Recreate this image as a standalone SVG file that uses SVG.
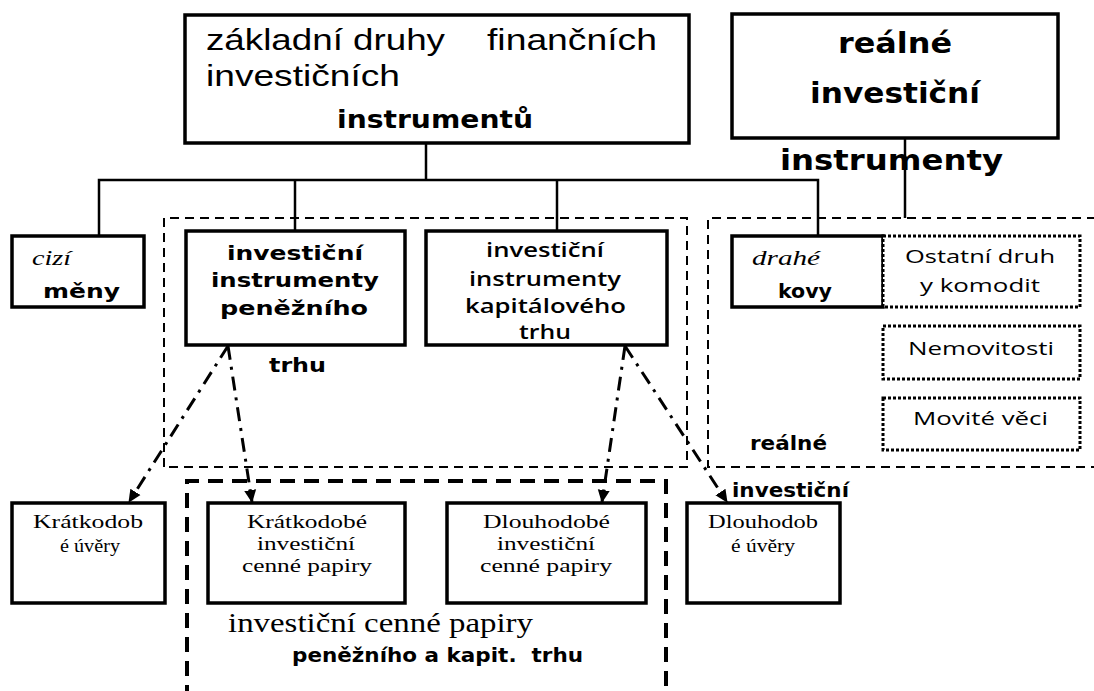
<svg xmlns="http://www.w3.org/2000/svg" width="1094" height="691" viewBox="0 0 1094 691">
<defs>
<style>
.box{fill:#fff;stroke:#000;stroke-width:3.5}
.dot{fill:#fff;stroke:#000;stroke-width:3;stroke-dasharray:3 2}
.dash{fill:none;stroke:#000;stroke-width:2;stroke-dasharray:9 6}
.tdash{fill:none;stroke:#000;stroke-width:4;stroke-dasharray:15 9}
.ln{fill:none;stroke:#000;stroke-width:2.5}
.dd{fill:none;stroke:#000;stroke-width:3;stroke-dasharray:14 7 3 7}
text{fill:#000}
.sa{font-family:"Liberation Sans",Arial,sans-serif}
.vb{font-family:"DejaVu Sans",Verdana,sans-serif;font-weight:bold}
.cb{font-family:"Open Sans","Liberation Sans",sans-serif;font-weight:600}
.cr{font-family:"Open Sans","Liberation Sans",sans-serif}
.se{font-family:"Liberation Serif","Times New Roman",serif}
.it{font-family:"Liberation Serif","Times New Roman",serif;font-style:italic}
</style>
<marker id="ah" markerUnits="userSpaceOnUse" markerWidth="14" markerHeight="14" viewBox="0 0 14 14" refX="12" refY="7" orient="auto">
<path d="M0,1 L13,7 L0,13 z" fill="#000"/>
</marker>
</defs>
<rect width="1094" height="691" fill="#fff"/>

<g id="regions">
<path class="dash" d="M164,467 V218 H687 V467 H164"/>
<path class="dash" d="M1100,467 H708 V218 H1100"/>
<path class="tdash" d="M187,700 V481 H666 V700"/>
</g>

<g id="connectors">
<path class="ln" d="M426,143 V180"/>
<path class="ln" d="M99,236 V180 H818 V236"/>
<path class="ln" d="M295,180 V231"/>
<path class="ln" d="M557,180 V231"/>
<path class="ln" d="M905,138 V218"/>
<path class="dd" d="M228,346 L129,502" marker-end="url(#ah)"/>
<path class="dd" d="M228,346 L252,502" marker-end="url(#ah)"/>
<path class="dd" d="M625,346 L602,502" marker-end="url(#ah)"/>
<path class="dd" d="M625,346 L727,502" marker-end="url(#ah)"/>
</g>

<g id="n-zakladni">
<rect class="box" x="185" y="15" width="504" height="128"/>
<text class="sa" x="206" y="50" font-size="30" textLength="239" lengthAdjust="spacingAndGlyphs">základní druhy</text>
<text class="sa" x="487" y="50" font-size="30" textLength="170" lengthAdjust="spacingAndGlyphs">finančních</text>
<text class="sa" x="206" y="86" font-size="30" textLength="194" lengthAdjust="spacingAndGlyphs">investičních</text>
<text class="vb" x="337" y="128" font-size="25" textLength="196" lengthAdjust="spacingAndGlyphs">instrumentů</text>
</g>

<g id="n-realne">
<rect class="box" x="732" y="14" width="326" height="124"/>
<text class="vb" x="838" y="53" font-size="28" textLength="114" lengthAdjust="spacingAndGlyphs">reálné</text>
<text class="vb" x="810" y="103" font-size="28" textLength="170" lengthAdjust="spacingAndGlyphs">investiční</text>
<text class="vb" x="780" y="170" font-size="29" textLength="223" lengthAdjust="spacingAndGlyphs">instrumenty</text>
</g>

<g id="n-cizi">
<rect class="box" x="12" y="236" width="132" height="71"/>
<text class="it" x="32" y="265" font-size="20" textLength="39" lengthAdjust="spacingAndGlyphs">cizí</text>
<text class="vb" x="43" y="298" font-size="20" textLength="77" lengthAdjust="spacingAndGlyphs">měny</text>
</g>

<g id="n-penezni">
<rect class="box" x="186" y="231" width="219" height="114"/>
<text class="vb" x="227" y="260" font-size="20" textLength="136" lengthAdjust="spacingAndGlyphs">investiční</text>
<text class="vb" x="211" y="287" font-size="20" textLength="168" lengthAdjust="spacingAndGlyphs">instrumenty</text>
<text class="vb" x="220" y="315" font-size="20" textLength="148" lengthAdjust="spacingAndGlyphs">peněžního</text>
<text class="vb" x="269" y="372" font-size="20" textLength="57" lengthAdjust="spacingAndGlyphs">trhu</text>
</g>

<g id="n-kapitalovy">
<rect class="box" x="426" y="231" width="241" height="114"/>
<text class="cb" x="486" y="257" font-size="20" textLength="118" lengthAdjust="spacingAndGlyphs">investiční</text>
<text class="cb" x="469" y="286" font-size="20" textLength="152" lengthAdjust="spacingAndGlyphs">instrumenty</text>
<text class="cb" x="465" y="313" font-size="20" textLength="161" lengthAdjust="spacingAndGlyphs">kapitálového</text>
<text class="cb" x="519" y="339" font-size="20" textLength="52" lengthAdjust="spacingAndGlyphs">trhu</text>
</g>

<g id="n-drahe">
<rect class="box" x="732" y="236" width="151" height="71"/>
<text class="it" x="752" y="265" font-size="20" textLength="68" lengthAdjust="spacingAndGlyphs">drahé</text>
<text class="vb" x="778" y="298" font-size="20" textLength="54" lengthAdjust="spacingAndGlyphs">kovy</text>
</g>

<g id="n-ostatni">
<rect class="dot" x="883" y="236" width="197" height="71"/>
<text class="cr" x="905" y="263" font-size="19" textLength="150" lengthAdjust="spacingAndGlyphs">Ostatní druh</text>
<text class="cr" x="920" y="292" font-size="19" textLength="120" lengthAdjust="spacingAndGlyphs">y komodit</text>
</g>

<g id="n-nemovitosti">
<rect class="dot" x="883" y="326" width="197" height="53"/>
<text class="cr" x="908" y="355" font-size="19" textLength="146" lengthAdjust="spacingAndGlyphs">Nemovitosti</text>
</g>

<g id="n-movite">
<rect class="dot" x="883" y="398" width="197" height="52"/>
<text class="cr" x="913" y="425" font-size="19" textLength="135" lengthAdjust="spacingAndGlyphs">Movité věci</text>
</g>

<g id="l-realne-investicni">
<text class="vb" x="750" y="450" font-size="20" textLength="77" lengthAdjust="spacingAndGlyphs">reálné</text>
<text class="vb" x="732" y="497" font-size="20" textLength="117" lengthAdjust="spacingAndGlyphs">investiční</text>
</g>

<g id="n-kratkodobe-uvery">
<rect class="box" x="12" y="503" width="153" height="100"/>
<text class="se" x="33" y="528" font-size="18" textLength="110" lengthAdjust="spacingAndGlyphs">Krátkodob</text>
<text class="se" x="60" y="552" font-size="18" textLength="60" lengthAdjust="spacingAndGlyphs">é úvěry</text>
</g>

<g id="n-kratkodobe-cp">
<rect class="box" x="208" y="503" width="197" height="100"/>
<text class="se" x="247" y="528" font-size="18" textLength="120" lengthAdjust="spacingAndGlyphs">Krátkodobé</text>
<text class="se" x="257" y="550" font-size="18" textLength="98" lengthAdjust="spacingAndGlyphs">investiční</text>
<text class="se" x="242" y="572" font-size="18" textLength="130" lengthAdjust="spacingAndGlyphs">cenné papiry</text>
</g>

<g id="n-dlouhodobe-cp">
<rect class="box" x="447" y="503" width="199" height="100"/>
<text class="se" x="483" y="528" font-size="18" textLength="127" lengthAdjust="spacingAndGlyphs">Dlouhodobé</text>
<text class="se" x="497" y="550" font-size="18" textLength="98" lengthAdjust="spacingAndGlyphs">investiční</text>
<text class="se" x="480" y="572" font-size="18" textLength="132" lengthAdjust="spacingAndGlyphs">cenné papiry</text>
</g>

<g id="n-dlouhodobe-uvery">
<rect class="box" x="687" y="503" width="153" height="100"/>
<text class="se" x="708" y="528" font-size="18" textLength="110" lengthAdjust="spacingAndGlyphs">Dlouhodob</text>
<text class="se" x="731" y="552" font-size="18" textLength="64" lengthAdjust="spacingAndGlyphs">é úvěry</text>
</g>

<g id="l-cenne-papiry">
<text class="se" x="228" y="632" font-size="27" textLength="305" lengthAdjust="spacingAndGlyphs">investiční cenné papiry</text>
<text class="vb" x="292" y="662" font-size="19" textLength="291" lengthAdjust="spacingAndGlyphs">peněžního a kapit.&#160; trhu</text>
</g>
</svg>
